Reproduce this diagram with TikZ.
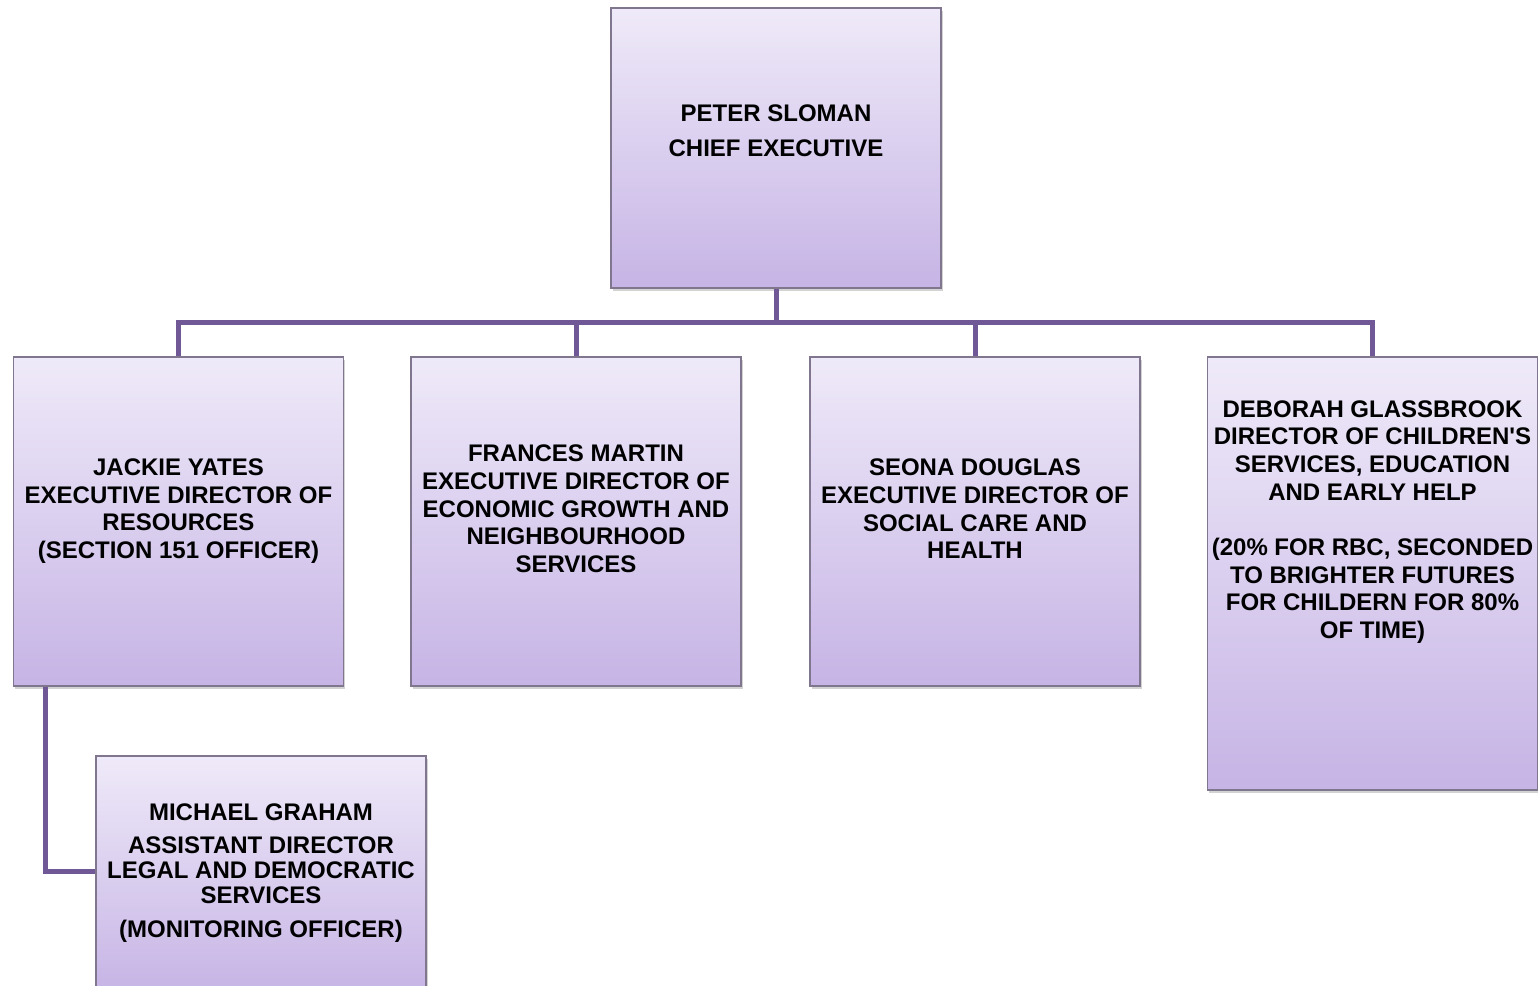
\documentclass[tikz,border=0pt]{standalone}
\usepackage{fontspec}
\setmainfont{Liberation Sans}
\usetikzlibrary{shadows}
\definecolor{boxtop}{RGB}{239,234,249}
\definecolor{boxbot}{RGB}{198,180,229}
\definecolor{boxline}{RGB}{128,118,142}
\definecolor{linkcol}{RGB}{112,88,150}
\begin{document}
\begin{tikzpicture}[
  x=1pt, y=-1pt,
  post/.style={rectangle, minimum width=330pt, minimum height=280pt,
               top color=boxtop, bottom color=boxbot, draw=boxline, line width=1.2pt,
               drop shadow={opacity=0.35, shadow xshift=1.5pt, shadow yshift=-3pt}},
  tall/.style={post, minimum height=433pt},
  short/.style={post, minimum height=236pt},
  txt/.style={align=center, font=\fontsize{24}{27.7}\selectfont\bfseries, inner sep=0pt},
  link/.style={draw=linkcol, line width=5pt}
]
\useasboundingbox (0,0) rectangle (1538,985);
% boxes
\node[post]  (ceo)   at (776,148)    {};
\node[post, minimum height=329pt] (res) at (178.5,521.5) {};
\node[post, minimum height=329pt] (econ) at (576,521.5) {};
\node[post, minimum height=329pt] (care) at (975,521.5) {};
\node[tall]  (kids)  at (1372.5,573.5) {};
\node[short] (legal) at (261,874)    {};
% connectors
\draw[link] (ceo.south) -- ++(0,34) coordinate (bus);
\draw[link, line cap=rect] (res.north |- bus) -- (kids.north |- bus);
\foreach \b in {res,econ,care,kids}
  \draw[link] (\b.north |- bus) -- (\b.north);
\draw[link] ([xshift=33pt]res.south west) |- ([yshift=3pt]legal.west);
% texts
\node[txt] (ceo-t)   at (776,131)  {PETER SLOMAN\\[7pt]CHIEF EXECUTIVE};
\node[txt] (res-t)   at (178.5,511) {JACKIE YATES\\EXECUTIVE DIRECTOR OF\\RESOURCES\\(SECTION 151 OFFICER)};
\node[txt] (econ-t)  at (576,509)  {FRANCES MARTIN\\EXECUTIVE DIRECTOR OF\\ECONOMIC GROWTH AND\\NEIGHBOURHOOD\\SERVICES};
\node[txt] (care-t)  at (975,509)  {SEONA DOUGLAS\\EXECUTIVE DIRECTOR OF\\SOCIAL CARE AND\\HEALTH};
\node[txt] (kids-t)  at (1372.5,522) {DEBORAH GLASSBROOK\\DIRECTOR OF CHILDREN\textquotesingle S\\SERVICES, EDUCATION\\AND EARLY HELP\\[27.7pt](20\% FOR RBC, SECONDED\\TO BRIGHTER FUTURES\\FOR CHILDERN FOR 80\%\\OF TIME)};
\node[txt] (legal-t) at (261,873)  {MICHAEL GRAHAM\\[6pt]ASSISTANT DIRECTOR\\[-2.7pt]LEGAL AND DEMOCRATIC\\[-2.7pt]SERVICES\\[6pt](MONITORING OFFICER)};
\end{tikzpicture}
\end{document}
